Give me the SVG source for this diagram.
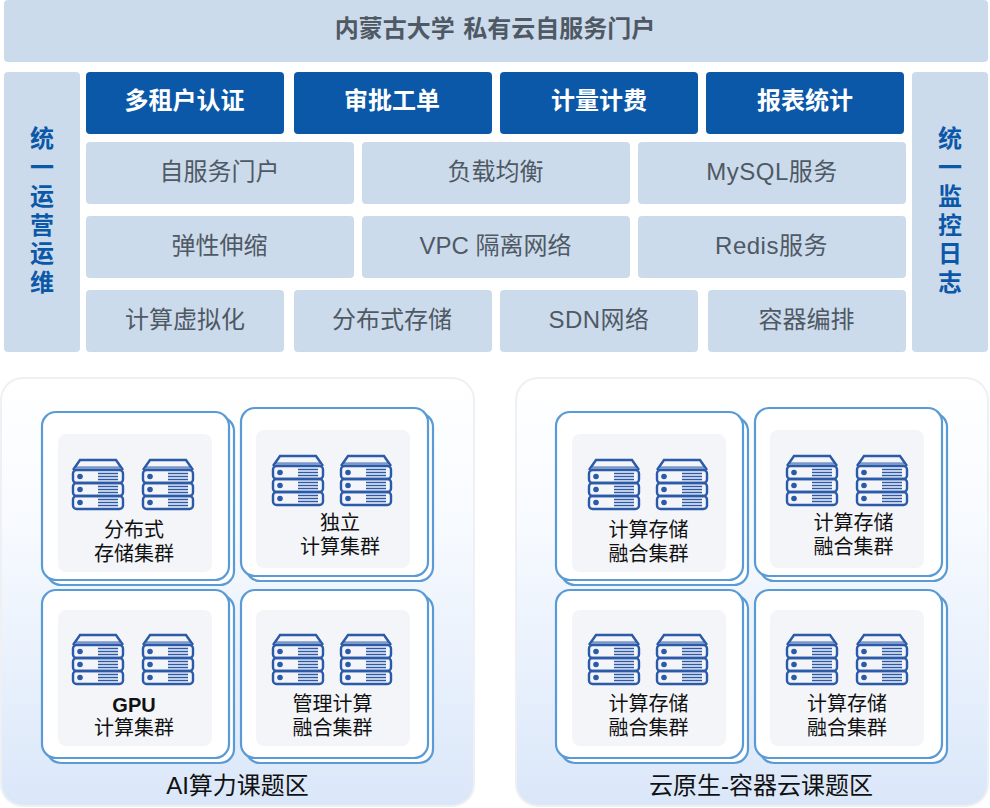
<svg xmlns="http://www.w3.org/2000/svg" width="990" height="808" viewBox="0 0 990 808">
<style>
text{font-family:"Liberation Sans","Noto Sans CJK SC",sans-serif;text-anchor:middle}
.b{fill:#ccdbec}
.d{fill:#0b57a8}
.t{font-size:24px;fill:#4f5964}
.m{letter-spacing:.5px}
.w{font-size:24px;font-weight:700;fill:#fff}
.s{font-size:24px;font-weight:700;fill:#0b57a8}
.l{font-size:20px;fill:#111}
.a{font-size:24px;fill:#111}
.p{fill:url(#g);stroke:#eef0f3;stroke-width:2}
.c{fill:#fff;stroke:#5b9bd5;stroke-width:2.200}
.i{fill:#f3f5f9}
.sv rect,.sv path{fill:none;stroke:#2b5aa8;stroke-width:2.400}
.sv .f{fill:#2b5aa8;stroke:none}
.sv .h{stroke-width:1.600}
</style>
<defs>
<linearGradient id="g" x1="0" y1="0" x2="0" y2="1"><stop offset="0" stop-color="#fff"/><stop offset=".35" stop-color="#f7faff"/><stop offset="1" stop-color="#dae7f9"/></linearGradient>
<g id="srv" class="sv">
<path d="M1 11 L8 1 H44 L51 11"/>
<path d="M4 8.500H48" stroke-opacity=".6"/>
<rect x="1" y="11" width="50" height="13" rx="3.500"/>
<rect x="1" y="24" width="50" height="13" rx="3.500"/>
<rect x="1" y="37" width="50" height="13" rx="3.500"/>
<circle class="f" cx="8" cy="17.500" r="2.800"/><circle class="f" cx="8" cy="30.500" r="2.800"/><circle class="f" cx="8" cy="43.500" r="2.800"/>
<path class="h" d="M26 14.500H46M26 17.500H46M26 20.500H46M26 27.500H46M26 30.500H46M26 33.500H46M26 40.500H46M26 43.500H46M26 46.500H46"/>
</g>
</defs>
<g id="portal"><rect class="b" x="4" y="0" width="984" height="62" rx="4"/><text x="495" y="37" font-size="24" font-weight="700" fill="#4f5964" word-spacing="2">内蒙古大学 私有云自服务门户</text></g>
<g id="ops"><rect class="b" x="4" y="72" width="76" height="280" rx="4"/>
<text class="s" x="42" y="147">统</text><text class="s" x="42" y="176">一</text><text class="s" x="42" y="205">运</text><text class="s" x="42" y="234">营</text><text class="s" x="42" y="262">运</text><text class="s" x="42" y="291">维</text></g>
<g id="monitor"><rect class="b" x="912" y="72" width="76" height="280" rx="4"/>
<text class="s" x="950" y="147">统</text><text class="s" x="950" y="176">一</text><text class="s" x="950" y="205">监</text><text class="s" x="950" y="234">控</text><text class="s" x="950" y="262">日</text><text class="s" x="950" y="291">志</text></g>
<g id="n1"><rect class="d" x="86" y="72" width="198" height="62" rx="4"/><text class="w" x="184.500" y="109">多租户认证</text></g>
<g id="n2"><rect class="d" x="294" y="72" width="198" height="62" rx="4"/><text class="w" x="392" y="109">审批工单</text></g>
<g id="n3"><rect class="d" x="500" y="72" width="198" height="62" rx="4"/><text class="w" x="599" y="109">计量计费</text></g>
<g id="n4"><rect class="d" x="706" y="72" width="198" height="62" rx="4"/><text class="w" x="805" y="109">报表统计</text></g>
<g id="n5"><rect class="b" x="86" y="142" width="268" height="62" rx="4"/><text class="t" x="219.500" y="180">自服务门户</text></g>
<g id="n6"><rect class="b" x="362" y="142" width="268" height="62" rx="4"/><text class="t" x="495.500" y="180">负载均衡</text></g>
<g id="n7"><rect class="b" x="638" y="142" width="268" height="62" rx="4"/><text class="t m" x="772" y="180">MySQL服务</text></g>
<g id="n8"><rect class="b" x="86" y="216" width="268" height="62" rx="4"/><text class="t" x="219.500" y="254">弹性伸缩</text></g>
<g id="n9"><rect class="b" x="362" y="216" width="268" height="62" rx="4"/><text class="t" x="495.500" y="254">VPC 隔离网络</text></g>
<g id="n10"><rect class="b" x="638" y="216" width="268" height="62" rx="4"/><text class="t m" x="771.500" y="254">Redis服务</text></g>
<g id="n11"><rect class="b" x="86" y="290" width="198" height="62" rx="4"/><text class="t" x="185" y="328">计算虚拟化</text></g>
<g id="n12"><rect class="b" x="294" y="290" width="198" height="62" rx="4"/><text class="t" x="392" y="328">分布式存储</text></g>
<g id="n13"><rect class="b" x="500" y="290" width="198" height="62" rx="4"/><text class="t m" x="599" y="328">SDN网络</text></g>
<g id="n14"><rect class="b" x="708" y="290" width="198" height="62" rx="4"/><text class="t" x="806.500" y="328">容器编排</text></g>
<g id="ai"><rect class="p" x="1" y="378" width="473" height="428" rx="22"/><text class="a" x="237.500" y="794">AI算力课题区</text></g>
<g id="cn"><rect class="p" x="516" y="378" width="472" height="428" rx="22"/><text class="a" x="761" y="794">云原生-容器云课题区</text></g>
<g id="c1"><rect class="c" x="47" y="417" width="187" height="168" rx="14"/><rect class="c" x="42" y="412" width="187" height="168" rx="14"/><rect class="i" x="58" y="434" width="154" height="138" rx="8"/><use href="#srv" x="72" y="459"/><use href="#srv" x="142" y="459"/><text class="l" x="134" y="537">分布式</text><text class="l" x="134" y="561">存储集群</text></g>
<g id="c2"><rect class="c" x="246" y="413" width="187" height="168" rx="14"/><rect class="c" x="241" y="408" width="187" height="168" rx="14"/><rect class="i" x="256" y="430" width="154" height="138" rx="8"/><use href="#srv" x="272" y="455"/><use href="#srv" x="340" y="455"/><text class="l" x="340" y="530">独立</text><text class="l" x="340" y="554">计算集群</text></g>
<g id="c3"><rect class="c" x="47" y="595" width="187" height="168" rx="14"/><rect class="c" x="42" y="590" width="187" height="168" rx="14"/><rect class="i" x="58" y="610" width="154" height="136" rx="8"/><use href="#srv" x="72" y="634"/><use href="#srv" x="142" y="634"/><text class="l" x="134" y="712" font-weight="700">GPU</text><text class="l" x="134" y="735">计算集群</text></g>
<g id="c4"><rect class="c" x="246" y="595" width="187" height="168" rx="14"/><rect class="c" x="241" y="590" width="187" height="168" rx="14"/><rect class="i" x="256" y="610" width="154" height="136" rx="8"/><use href="#srv" x="272" y="634"/><use href="#srv" x="340" y="634"/><text class="l" x="332.500" y="711">管理计算</text><text class="l" x="332.500" y="735">融合集群</text></g>
<g id="c5"><rect class="c" x="561" y="417" width="187" height="168" rx="14"/><rect class="c" x="556" y="412" width="187" height="168" rx="14"/><rect class="i" x="572" y="434" width="154" height="138" rx="8"/><use href="#srv" x="588" y="459"/><use href="#srv" x="656" y="459"/><text class="l" x="648.500" y="537">计算存储</text><text class="l" x="648.500" y="561">融合集群</text></g>
<g id="c6"><rect class="c" x="760" y="413" width="187" height="168" rx="14"/><rect class="c" x="755" y="408" width="187" height="168" rx="14"/><rect class="i" x="770" y="430" width="154" height="138" rx="8"/><use href="#srv" x="786" y="455"/><use href="#srv" x="856" y="455"/><text class="l" x="853.500" y="530">计算存储</text><text class="l" x="853.500" y="554">融合集群</text></g>
<g id="c7"><rect class="c" x="561" y="595" width="187" height="168" rx="14"/><rect class="c" x="556" y="590" width="187" height="168" rx="14"/><rect class="i" x="572" y="610" width="154" height="136" rx="8"/><use href="#srv" x="588" y="634"/><use href="#srv" x="656" y="634"/><text class="l" x="648.500" y="711">计算存储</text><text class="l" x="648.500" y="735">融合集群</text></g>
<g id="c8"><rect class="c" x="760" y="595" width="187" height="168" rx="14"/><rect class="c" x="755" y="590" width="187" height="168" rx="14"/><rect class="i" x="770" y="610" width="154" height="136" rx="8"/><use href="#srv" x="786" y="634"/><use href="#srv" x="856" y="634"/><text class="l" x="847" y="711">计算存储</text><text class="l" x="847" y="735">融合集群</text></g>
<g id="connectors"/>
</svg>
